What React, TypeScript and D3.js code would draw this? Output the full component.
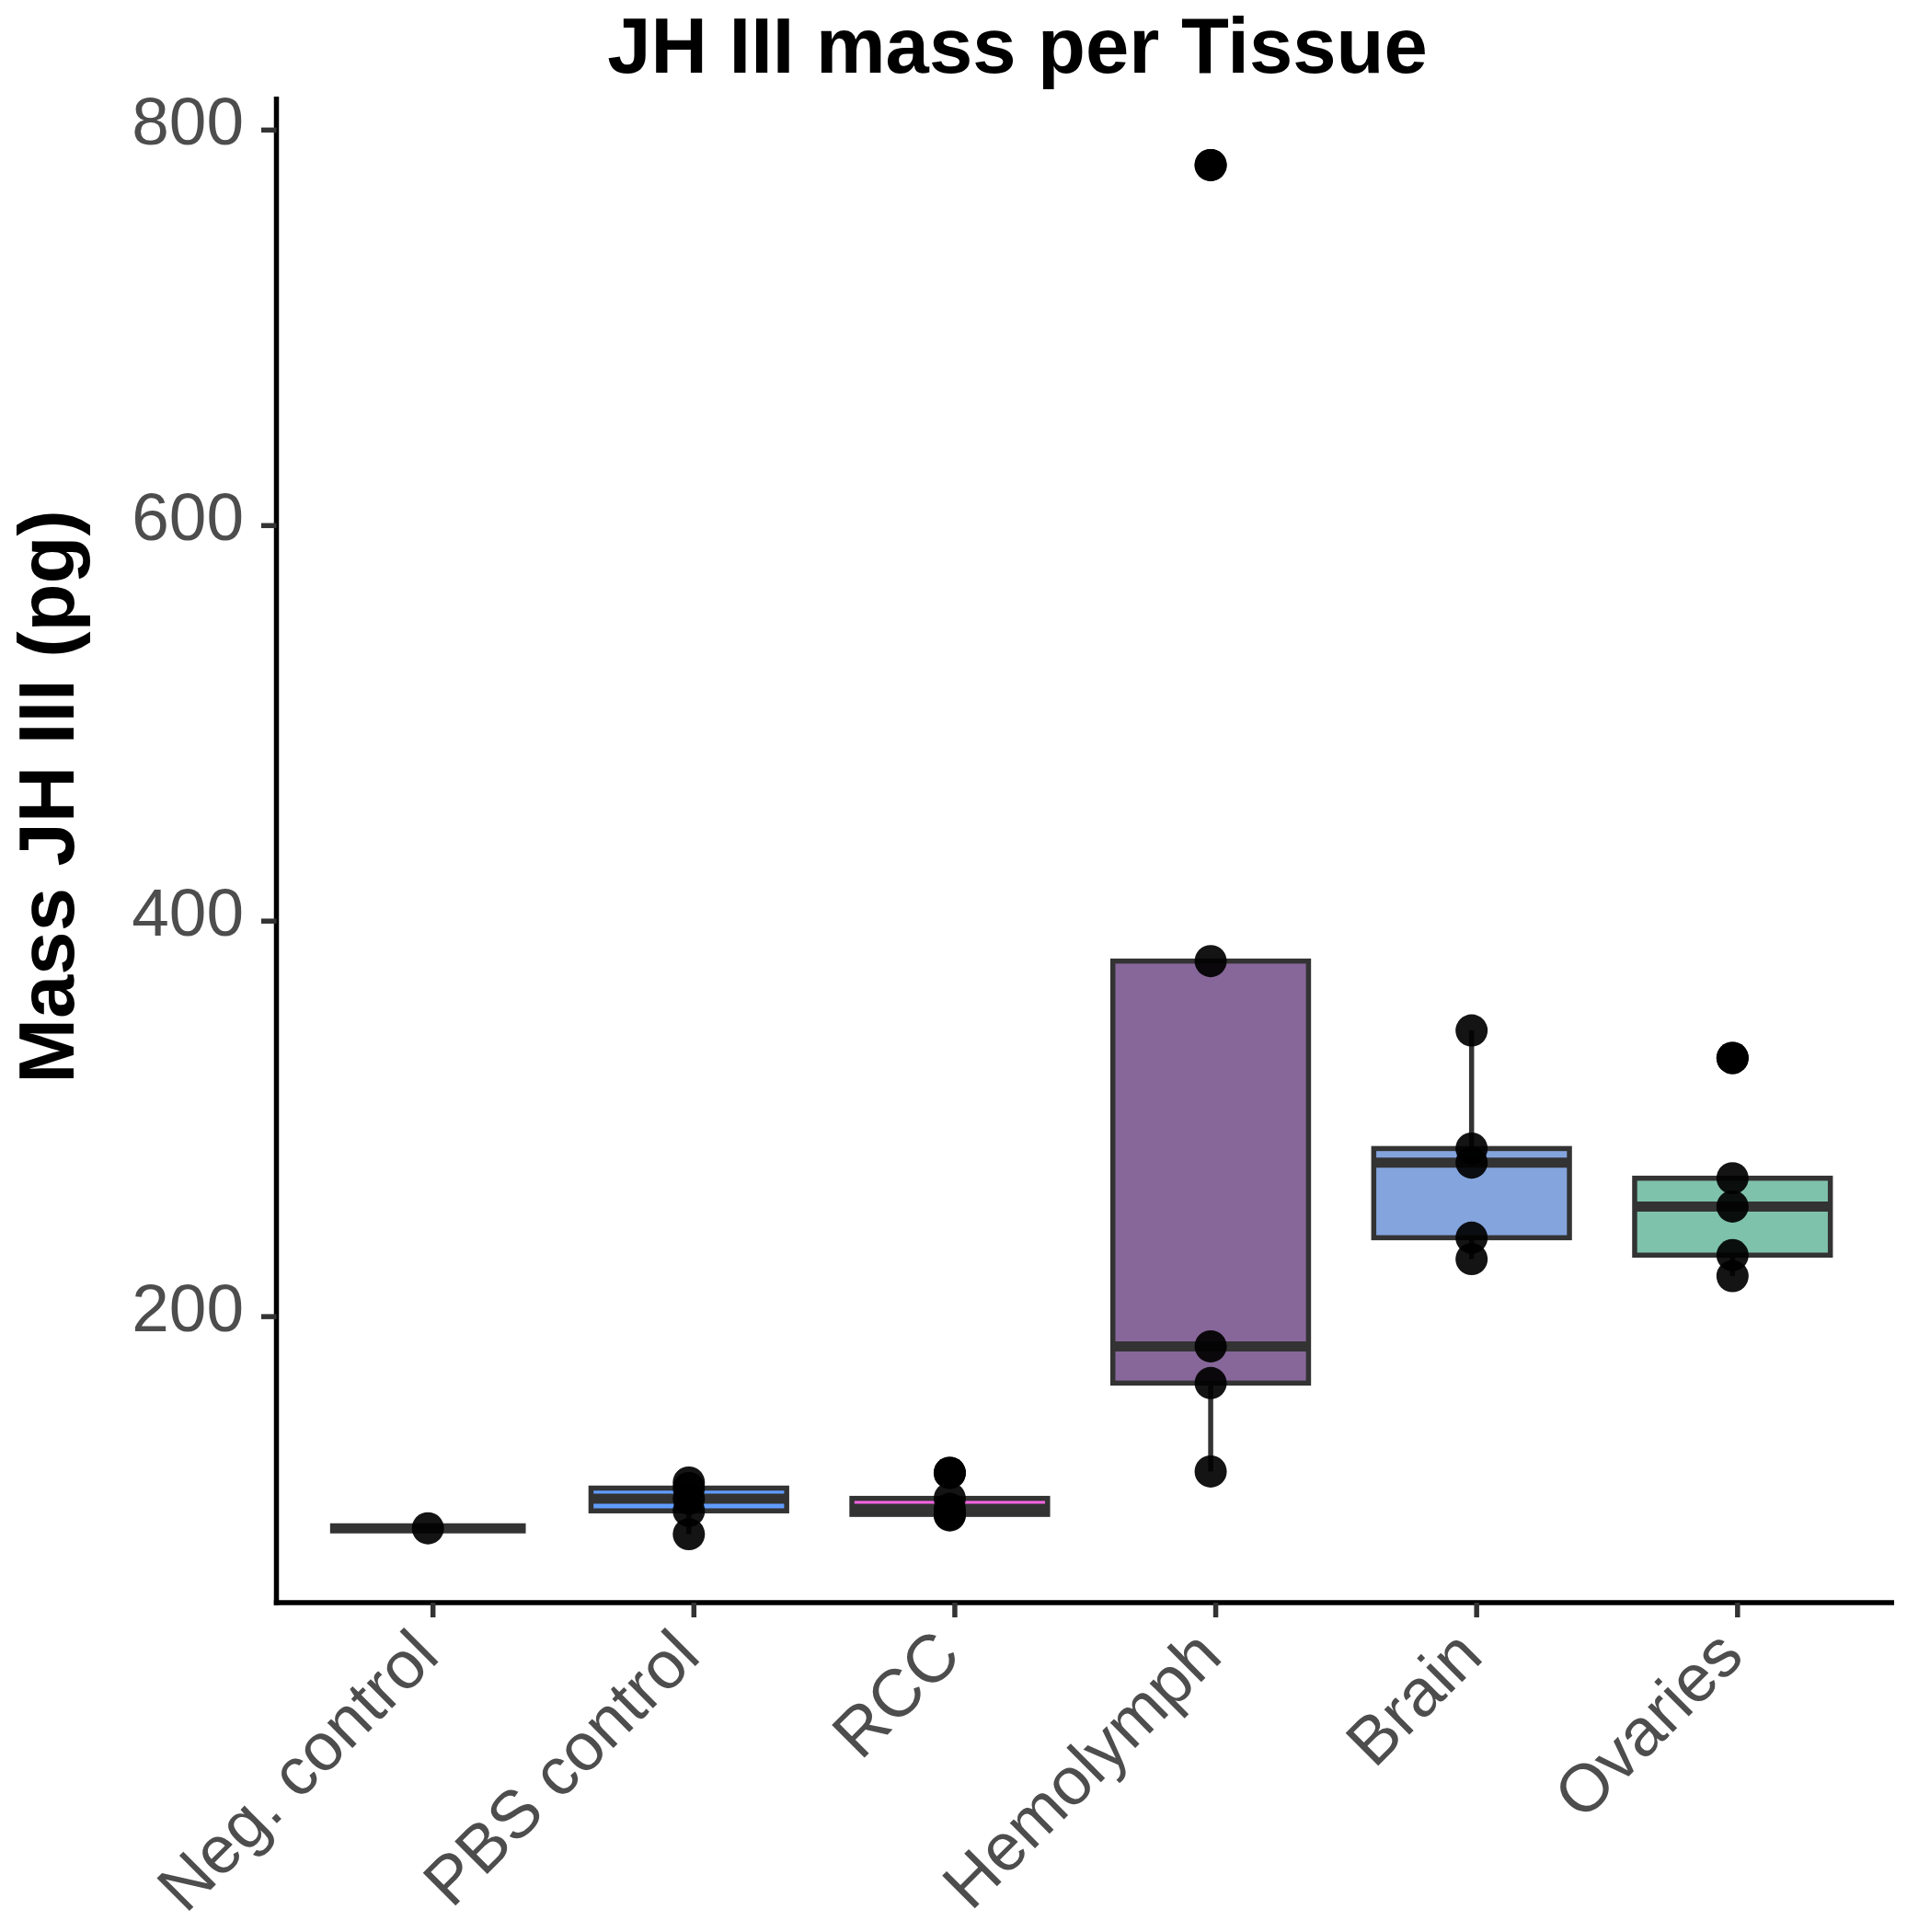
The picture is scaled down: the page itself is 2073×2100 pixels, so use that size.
import React from "react";
import * as d3 from "d3";

const categories = ["Neg. control", "PBS control", "RCC", "Hemolymph", "Brain", "Ovaries"];
const negControl = [93];
const pbsControl = [90, 101.8, 107.9, 113.3, 116.1];
const rcc = [99.5, 100, 102.8, 108.1, 121];
const hemolymph = [121.7, 166.4, 185, 379.8, 782.3];
const brain = [229.1, 239.9, 277.9, 285, 344.7];
const ovaries = [220.5, 231.1, 255.7, 270, 330.8];
const seriesValues = [negControl, pbsControl, rcc, hemolymph, brain, ovaries];
const fillColors = ["#F8766D", "#619CFF", "#F564E3", "#87679A", "#84A4DE", "#7FC2AC"];
const yTickValues = [200, 400, 600, 800];

const W = 2073;
const H = 2100;
const panel = { left: 300.5, right: 2059, top: 105, bottom: 1742 };
const FONT = "'Liberation Sans', Arial, Helvetica, sans-serif";

function boxStats(vals: number[]) {
  const s = [...vals].sort((a, b) => a - b);
  const q1 = d3.quantile(s, 0.25) as number;
  const med = d3.quantile(s, 0.5) as number;
  const q3 = d3.quantile(s, 0.75) as number;
  const iqr = q3 - q1;
  const lo = q1 - 1.5 * iqr;
  const hi = q3 + 1.5 * iqr;
  const inside = s.filter((v) => v >= lo && v <= hi);
  return {
    q1, med, q3,
    wLo: d3.min(inside) as number,
    wHi: d3.max(inside) as number,
    outliers: s.filter((v) => v < lo || v > hi),
  };
}

export default function App() {
  const all = seriesValues.flat();
  const [mn, mx] = d3.extent(all) as [number, number];
  const pad = (mx - mn) * 0.05;
  const y = d3.scaleLinear().domain([mn - pad, mx + pad]).range([panel.bottom, panel.top]);
  const x = d3.scalePoint<string>().domain(categories).range([panel.left, panel.right]).padding(0.6);
  const step = x.step();
  const boxW = step * 0.75;
  const dataShift = -5.5;
  const lw = 5.5;
  const ptR = 17.5;

  return (
    <svg width={W} height={H} style={{ position: "absolute", left: 0, top: 0, background: "#fff" }} xmlns="http://www.w3.org/2000/svg">
      <rect x={0} y={0} width={W} height={H} fill="#ffffff" />
      {/* title */}
      <text x={1106} y={79} textAnchor="middle" fontFamily={FONT} fontWeight="bold" fontSize={85} fill="#000">
        JH III mass per Tissue
      </text>
      {/* y title */}
      <text transform={`translate(80,866) rotate(-90)`} textAnchor="middle" fontFamily={FONT} fontWeight="bold" fontSize={85} fill="#000">
        Mass JH III (pg)
      </text>

      {/* data */}
      <g transform={`translate(${dataShift},0)`}>
        {categories.map((c, i) => {
          const st = boxStats(seriesValues[i]);
          const cx = x(c) as number;
          return (
            <g key={c}>
              <line x1={cx} x2={cx} y1={y(st.q3)} y2={y(st.wHi)} stroke="#333333" strokeWidth={lw} />
              <line x1={cx} x2={cx} y1={y(st.q1)} y2={y(st.wLo)} stroke="#333333" strokeWidth={lw} />
              <rect x={cx - boxW / 2} y={y(st.q3)} width={boxW} height={Math.max(0, y(st.q1) - y(st.q3))}
                fill={fillColors[i]} stroke="#333333" strokeWidth={lw} />
              <line x1={cx - boxW / 2} x2={cx + boxW / 2} y1={y(st.med)} y2={y(st.med)} stroke="#333333" strokeWidth={lw * 2} />
              {st.outliers.map((v, k) => (
                <circle key={"o" + k} cx={cx} cy={y(v)} r={ptR} fill="#000" />
              ))}
            </g>
          );
        })}
        {categories.map((c, i) =>
          seriesValues[i].map((v, k) => (
            <circle key={c + k} cx={x(c) as number} cy={y(v)} r={ptR} fill="#000" fillOpacity={0.92} />
          ))
        )}
      </g>

      {/* y axis */}
      <line x1={panel.left} x2={panel.left} y1={panel.top} y2={panel.bottom + lw / 2} stroke="#000" strokeWidth={lw} />
      {yTickValues.map((t) => (
        <g key={t}>
          <line x1={panel.left - 16.5} x2={panel.left} y1={y(t)} y2={y(t)} stroke="#333333" strokeWidth={lw} />
          <text x={265} y={y(t) + 16} textAnchor="end" fontFamily={FONT} fontSize={73} fill="#4D4D4D">
            {t}
          </text>
        </g>
      ))}

      {/* x axis */}
      <line x1={panel.left - lw / 2} x2={panel.right} y1={panel.bottom} y2={panel.bottom} stroke="#000" strokeWidth={lw} />
      {categories.map((c) => {
        const tx = x(c) as number;
        return (
          <g key={c}>
            <line x1={tx} x2={tx} y1={panel.bottom} y2={panel.bottom + 16} stroke="#333333" strokeWidth={lw} />
            <text transform={`translate(${tx + 9.3},1803) rotate(-45)`} textAnchor="end" fontFamily={FONT} fontSize={73} fill="#4D4D4D">
              {c}
            </text>
          </g>
        );
      })}
    </svg>
  );
}
